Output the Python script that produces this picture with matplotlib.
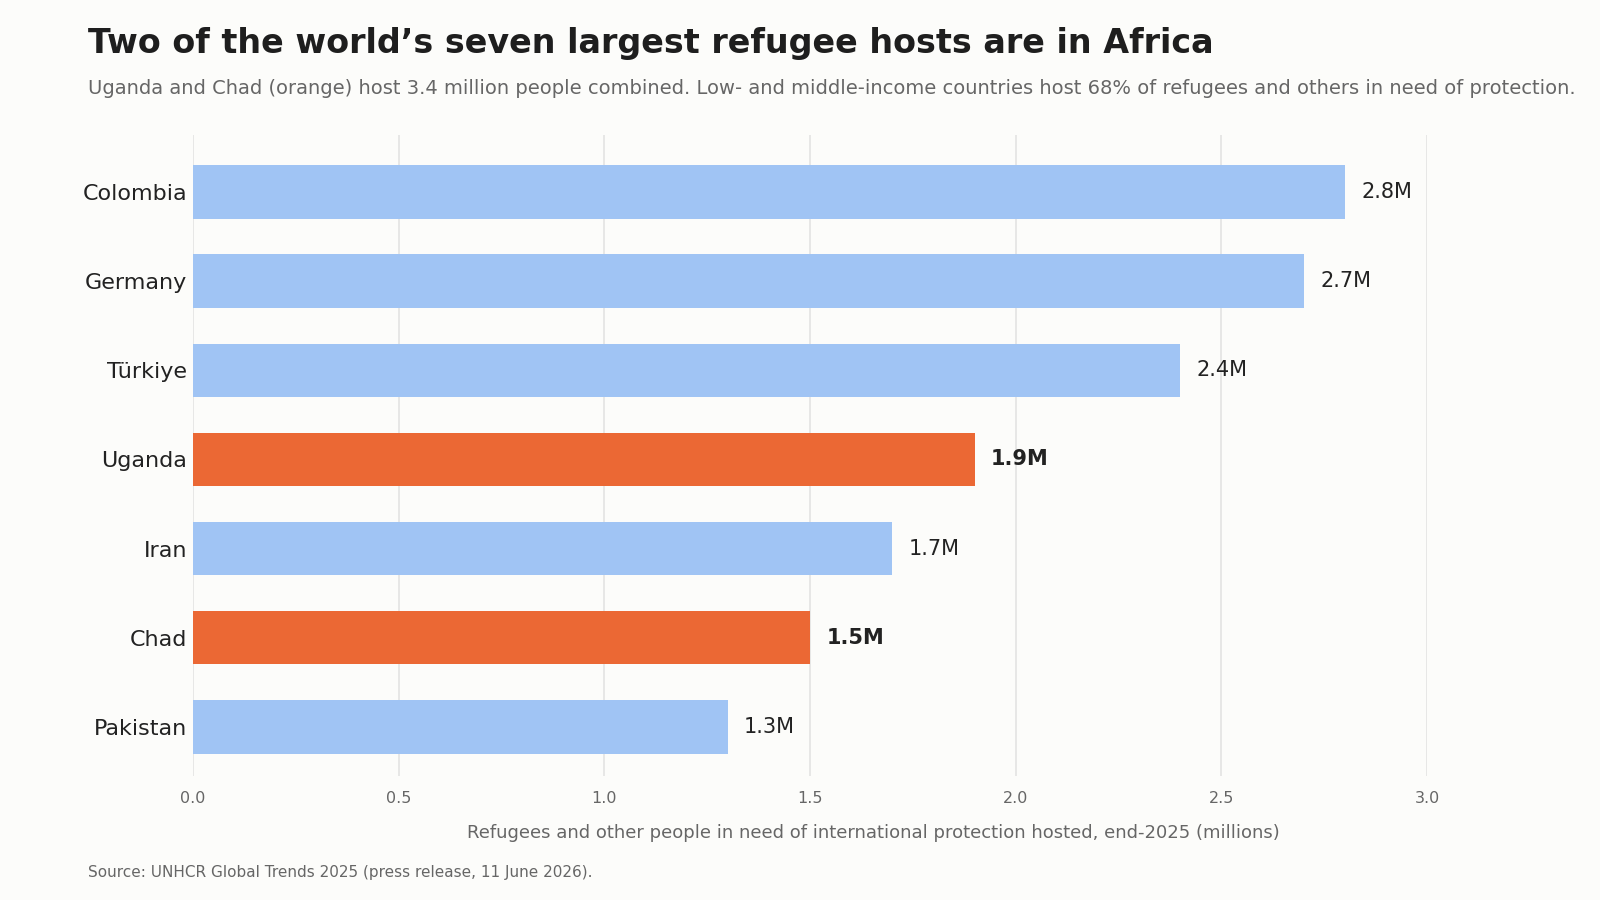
import matplotlib
matplotlib.use("Agg")
import matplotlib.pyplot as plt

countries = ["Colombia", "Germany", "Türkiye", "Uganda", "Iran", "Chad", "Pakistan"]
values = [2.8, 2.7, 2.4, 1.9, 1.7, 1.5, 1.3]
labels = ["2.8M", "2.7M", "2.4M", "1.9M", "1.7M", "1.5M", "1.3M"]
highlight = [False, False, False, True, False, True, False]

BG = "#FCFCFA"
fig = plt.figure(figsize=(16, 9), dpi=100, facecolor=BG)
ax = fig.add_axes([0.1205, 0.138, 0.7715, 0.712], facecolor=BG)

ys = list(range(len(countries)))[::-1]
colors = ["#EB6834" if h else "#A0C4F4" for h in highlight]
ax.barh(ys, values, height=0.6, color=colors, zorder=3)
for y, v, l, h in zip(ys, values, labels, highlight):
    ax.text(v + 0.04, y, l, va="center", ha="left", fontsize=15, color="#222222",
            fontweight="bold" if h else "normal")

ax.set_yticks(ys)
ax.set_yticklabels(countries, fontsize=16, color="#222222")
ax.set_xlim(0, 3.0)
ax.set_ylim(-0.55, 6.64)
ax.set_xticks([0, 0.5, 1.0, 1.5, 2.0, 2.5, 3.0])
ax.set_xticklabels(["0.0", "0.5", "1.0", "1.5", "2.0", "2.5", "3.0"], fontsize=11.5, color="#666666")
ax.tick_params(axis="y", length=0, pad=4)
ax.tick_params(axis="x", length=0, pad=11)
ax.grid(axis="x", color="#E3E3E3", linewidth=1.2, zorder=0)
for s in ax.spines.values():
    s.set_visible(False)
ax.set_xlabel("Refugees and other people in need of international protection hosted, end-2025 (millions)",
              fontsize=13, color="#666666")
ax.xaxis.set_label_coords(0.551, -0.075)

fig.text(0.055, 0.952, "Two of the world\u2019s seven largest refugee hosts are in Africa",
         fontsize=24, fontweight="bold", color="#1E1E1E", va="center")
fig.text(0.055, 0.902, "Uganda and Chad (orange) host 3.4 million people combined. Low- and middle-income countries host 68% of refugees and others in need of protection.",
         fontsize=14, color="#666666", va="center")
fig.text(0.055, 0.031, "Source: UNHCR Global Trends 2025 (press release, 11 June 2026).",
         fontsize=11, color="#666666", va="center")

fig.savefig("out.png", dpi=100, facecolor=BG)
